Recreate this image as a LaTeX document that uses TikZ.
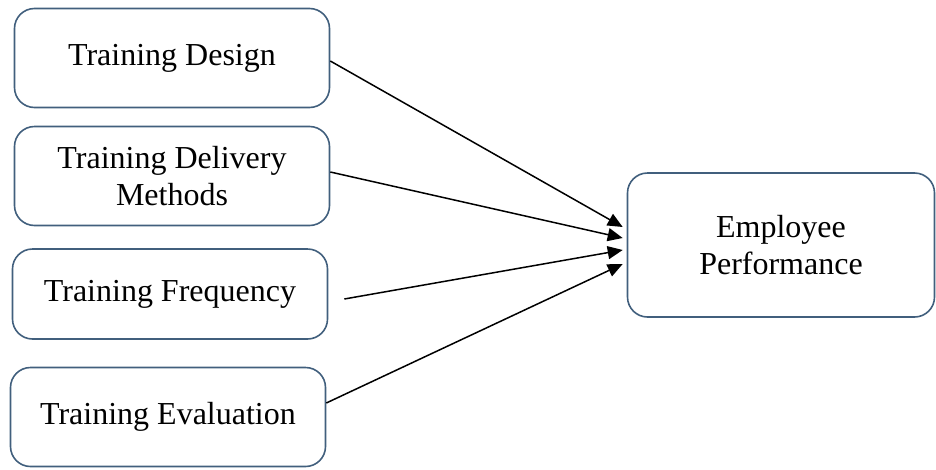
\documentclass[tikz,border=0pt]{standalone}
\usepackage{fontspec}
\setmainfont{Liberation Serif}
\definecolor{boxline}{RGB}{65,95,125}
\usetikzlibrary{arrows.meta}

\begin{document}
\begin{tikzpicture}[x=1pt,y=-1pt,
  factor/.style={draw=boxline, line width=1.6pt, rounded corners=20pt,
    minimum width=315pt, minimum height=99pt, align=center,
    font=\fontsize{32}{37}\selectfont},
  link/.style={line width=1.5pt, -{Triangle[length=15pt,width=13pt]}}]
  \useasboundingbox (0,0) rectangle (936,469);
  %% Independent variables
  \node[factor] (design) at (172,58) {Training Design};
  \node[factor] (delivery) at (172,176) {Training Delivery\\Methods};
  \node[factor, minimum height=90pt] (frequency) at (170,294) {Training Frequency};
  \node[factor] (evaluation) at (168,417) {Training Evaluation};
  %% Dependent variable
  \node[factor, minimum width=307pt, minimum height=144pt] (performance) at (781,245) {Employee\\Performance};
  %% Arrow heads stacked on the left side of the outcome box
  \coordinate (t1) at ([xshift=-4pt,yshift=18pt]performance.west);
  \coordinate (t2) at ([xshift=-4pt,yshift=7pt]performance.west);
  \coordinate (t3) at ([xshift=-4pt,yshift=-5pt]performance.west);
  \coordinate (t4) at ([xshift=-4pt,yshift=-19pt]performance.west);
  \draw[link] ([yshift=-3pt]design.east) -- (t1);
  \draw[link] ([yshift=4pt]delivery.east) -- (t2);
  \draw[link] ([xshift=16pt,yshift=-5pt]frequency.east) -- (t3);
  \draw[link] ([yshift=14pt]evaluation.east) -- (t4);
\end{tikzpicture}
\end{document}
